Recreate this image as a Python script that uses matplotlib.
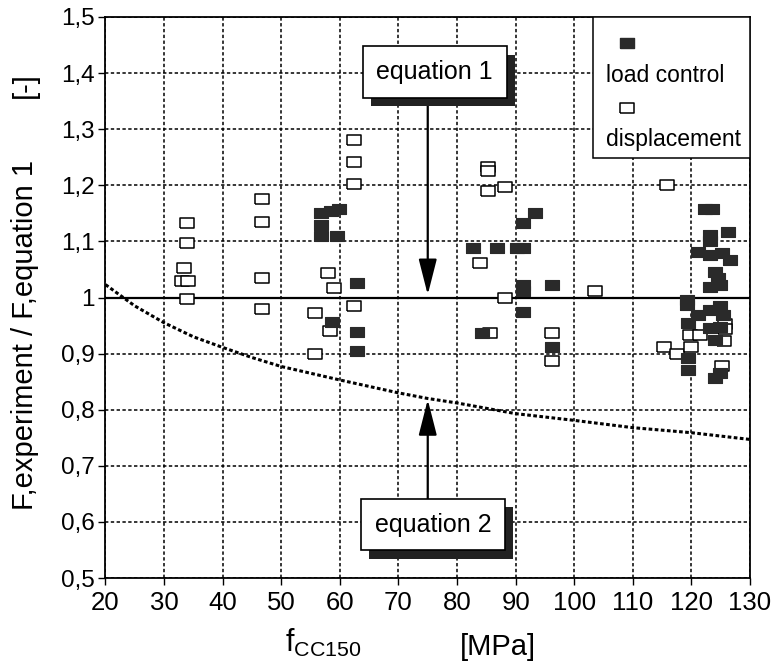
import matplotlib
matplotlib.use("Agg")
import matplotlib.pyplot as plt
import matplotlib.patheffects as pe
from matplotlib.patches import Rectangle

plt.rcParams["font.family"] = ["Liberation Sans", "DejaVu Sans"]

# load control tests (filled squares)
load_x = [56.8, 58.5, 59.8, 56.8, 56.8, 59.5, 58.7, 62.9, 62.9, 62.9,
          82.7, 86.8, 90.2, 91.3, 91.3, 93.3, 91.3, 91.3, 96.2, 91.3, 84.3, 96.2,
          122.3, 123.5, 126.2, 123.2, 123.2, 121.1, 123.2, 125.2, 126.6, 124.0,
          124.6, 123.2, 124.9, 119.2, 119.2, 121.1, 123.2, 124.9, 125.4, 119.4,
          123.2, 124.9, 124.0, 119.4, 119.4, 124.0, 124.9]
load_y = [1.150, 1.155, 1.158, 1.130, 1.110, 1.110, 0.957, 1.026, 0.939, 0.904,
          1.088, 1.088, 1.088, 1.088, 1.133, 1.151, 1.022, 1.012, 1.023, 0.975, 0.937, 0.911,
          1.157, 1.157, 1.117, 1.112, 1.100, 1.082, 1.076, 1.080, 1.067, 1.046,
          1.035, 1.019, 1.023, 0.996, 0.987, 0.969, 0.978, 0.984, 0.969, 0.955,
          0.946, 0.948, 0.925, 0.893, 0.871, 0.857, 0.866]

# displacement control tests (open squares)
disp_x = [33.9, 33.9, 33.4, 33.0, 34.1, 33.9,
          46.7, 46.7, 46.7, 46.7,
          58.0, 59.0, 55.7, 58.3, 55.7,
          62.4, 62.4, 62.4, 62.4,
          85.3, 85.3, 85.3, 88.2, 115.8,
          83.9, 88.2, 103.5, 85.6, 96.2, 96.2,
          119.7, 121.4, 125.7, 125.7, 125.6, 115.3, 117.5, 120.0, 125.2]
disp_y = [1.133, 1.098, 1.053, 1.030, 1.030, 0.998,
          1.176, 1.135, 1.034, 0.980,
          1.044, 1.017, 0.972, 0.941, 0.900,
          1.281, 1.242, 1.203, 0.984,
          1.233, 1.226, 1.189, 1.197, 1.201,
          1.062, 1.000, 1.012, 0.937, 0.937, 0.886,
          0.934, 0.934, 0.952, 0.943, 0.922, 0.911, 0.900, 0.911, 0.878]

# equation 2 relative to equation 1
eq2_x = [20, 25, 30, 35, 40, 45, 50, 60, 70, 75, 80, 90, 100, 110, 120, 130]
eq2_y = [1.023, 0.985, 0.955, 0.930, 0.911, 0.893, 0.877, 0.853, 0.830, 0.820,
         0.812, 0.793, 0.781, 0.768, 0.759, 0.747]

eq1_x = [20, 130]
eq1_y = [1.0, 1.0]

x_ticks = [20, 30, 40, 50, 60, 70, 80, 90, 100, 110, 120, 130]
y_ticks = [0.5, 0.6, 0.7, 0.8, 0.9, 1.0, 1.1, 1.2, 1.3, 1.4, 1.5]
y_tick_labels = ["0,5", "0,6", "0,7", "0,8", "0,9", "1", "1,1", "1,2", "1,3", "1,4", "1,5"]


def main():
    fig = plt.figure(figsize=(7.79, 6.64), dpi=100)
    ax = fig.add_axes([0.1354, 0.1295, 0.8274, 0.8449])

    rect = [(-1.27, -1), (1.27, -1), (1.27, 1), (-1.27, 1), (-1.27, -1)]

    ax.plot(eq1_x, eq1_y, color="black", lw=1.6, zorder=3)
    ax.plot(eq2_x, eq2_y, color="black", lw=2.2, linestyle=(0, (1.2, 0.8)), zorder=3)

    ax.plot(disp_x, disp_y, linestyle="none", marker=rect, markersize=10,
            markerfacecolor="white", markeredgecolor="black", markeredgewidth=1.1, zorder=4)
    ax.plot(load_x, load_y, linestyle="none", marker=rect, markersize=10,
            markerfacecolor="#2a2a2a", markeredgecolor="#2a2a2a", markeredgewidth=0.8, zorder=5)

    ax.set_xlim(20, 130)
    ax.set_ylim(0.5, 1.5)
    ax.set_xticks(x_ticks)
    ax.set_yticks(y_ticks)
    ax.set_yticklabels(y_tick_labels)
    ax.tick_params(axis="x", labelsize=18.5, direction="out", length=5, width=1, pad=4)
    ax.tick_params(axis="y", labelsize=17.5, direction="out", length=5, width=1, pad=3)
    ax.grid(True, color="black", linestyle=(0, (2.2, 1.6)), linewidth=1.1)
    ax.set_axisbelow(True)
    for s in ax.spines.values():
        s.set_linewidth(1.3)

    shadow = [pe.withSimplePatchShadow(offset=(6, -6), shadow_rgbFace="#222222", alpha=1.0)]
    for label, (xc, yc) in [("equation 1", (76.2, 1.402)), ("equation 2", (75.9, 0.595))]:
        t = ax.text(xc, yc, label, fontsize=18, ha="center", va="center", zorder=7,
                    bbox=dict(boxstyle="square,pad=0.55", facecolor="white",
                              edgecolor="black", linewidth=1.2))
        t.get_bbox_patch().set_path_effects(shadow)

    arrow = dict(arrowstyle="-|>,head_length=1.1,head_width=0.28", color="black",
                 lw=1.6, mutation_scale=20, shrinkA=0, shrinkB=0)
    ax.annotate("", xy=(75, 1.005), xytext=(75, 1.356), arrowprops=arrow, zorder=6)
    ax.annotate("", xy=(75, 0.818), xytext=(75, 0.639), arrowprops=arrow, zorder=6)

    # legend box
    ax.add_patch(Rectangle((0.756, 0.749), 0.244, 0.251, transform=ax.transAxes,
                           facecolor="white", edgecolor="black", linewidth=1.1, zorder=8))
    ax.plot([0.809], [0.954], transform=ax.transAxes, marker=rect, markersize=10,
            markerfacecolor="#2a2a2a", markeredgecolor="#2a2a2a", zorder=9)
    ax.text(0.777, 0.895, "load control", transform=ax.transAxes, fontsize=16.5,
            va="center", ha="left", zorder=9)
    ax.plot([0.809], [0.837], transform=ax.transAxes, marker=rect, markersize=10,
            markerfacecolor="white", markeredgecolor="black", markeredgewidth=1.1, zorder=9)
    ax.text(0.777, 0.781, "displacement", transform=ax.transAxes, fontsize=16.5,
            va="center", ha="left", zorder=9)

    fig.text(0.032, 0.4955, "F,experiment / F,equation 1", rotation=90, fontsize=21,
             ha="center", va="center")
    fig.text(0.032, 0.872, "[-]", rotation=90, fontsize=21, ha="center", va="center")
    fig.text(0.366, 0.018, r"f$_\mathregular{CC150}$", fontsize=22, ha="left", va="baseline")
    fig.text(0.5905, 0.0136, "[MPa]", fontsize=21, ha="left", va="baseline")

    fig.savefig("out.png", dpi=100)


if __name__ == "__main__":
    main()
